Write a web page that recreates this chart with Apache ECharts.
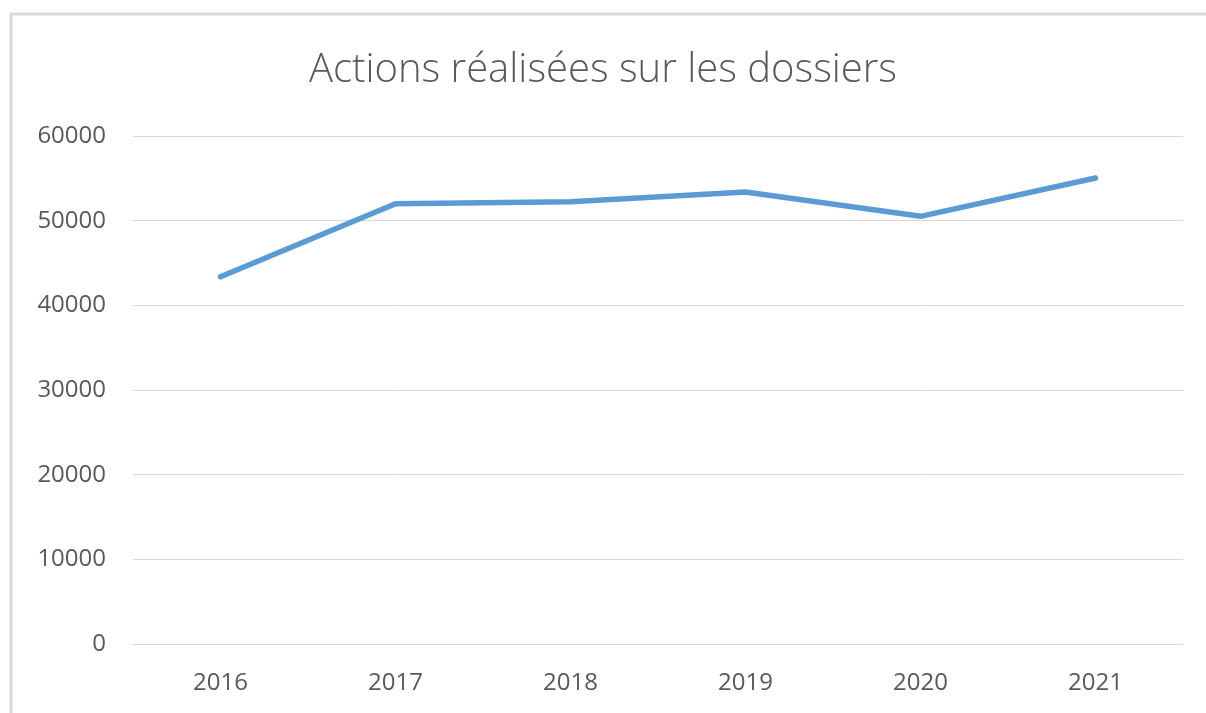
<!DOCTYPE html>
<html><head><meta charset="utf-8">
<script src="https://cdn.jsdelivr.net/npm/echarts@6/dist/echarts.min.js"></script>
<style>html,body{margin:0;padding:0;background:#fff}#c{width:1206px;height:713px}</style>
</head><body><div id="c"></div>
<script>
const categories = ['2016','2017','2018','2019','2020','2021'];
const values = [43370, 51990, 52230, 53380, 50510, 55040];
const titleText = 'Actions réalisées sur les dossiers';

const chart = echarts.init(document.getElementById('c'), null, {renderer:'canvas'});
chart.setOption({
  backgroundColor: '#fff',
  animation: false,
  title: {
    text: titleText, left: 'center', top: 46,
    textStyle: {fontFamily: 'Open Sans', fontWeight: 300, fontSize: 40, color: '#595959'}
  },
  graphic: [{
    type: 'rect', shape: {x: 11, y: 14, width: 1220, height: 720},
    style: {fill: 'none', stroke: '#D9D9D9', lineWidth: 3}, silent: true
  }],
  grid: {left: 133, right: 23, top: 136, bottom: 69, containLabel: false},
  xAxis: {
    type: 'category', data: categories, boundaryGap: true,
    axisLine: {show: false}, axisTick: {show: false},
    axisLabel: {color: '#595959', fontSize: 24, fontFamily: 'Open Sans', margin: 27}
  },
  yAxis: {
    type: 'value', min: 0, max: 60000, interval: 10000,
    axisLine: {show: false}, axisTick: {show: false},
    axisLabel: {color: '#595959', fontSize: 24, fontFamily: 'Open Sans', margin: 27,
      formatter: v => String(v)},
    splitLine: {lineStyle: {color: '#D9D9D9', width: 1}}
  },
  series: [{
    type: 'line', data: values, showSymbol: false, symbol: 'none',
    lineStyle: {color: '#5B9BD5', width: 5.5, cap: 'round', join: 'round'}
  }]
});
</script></body></html>
